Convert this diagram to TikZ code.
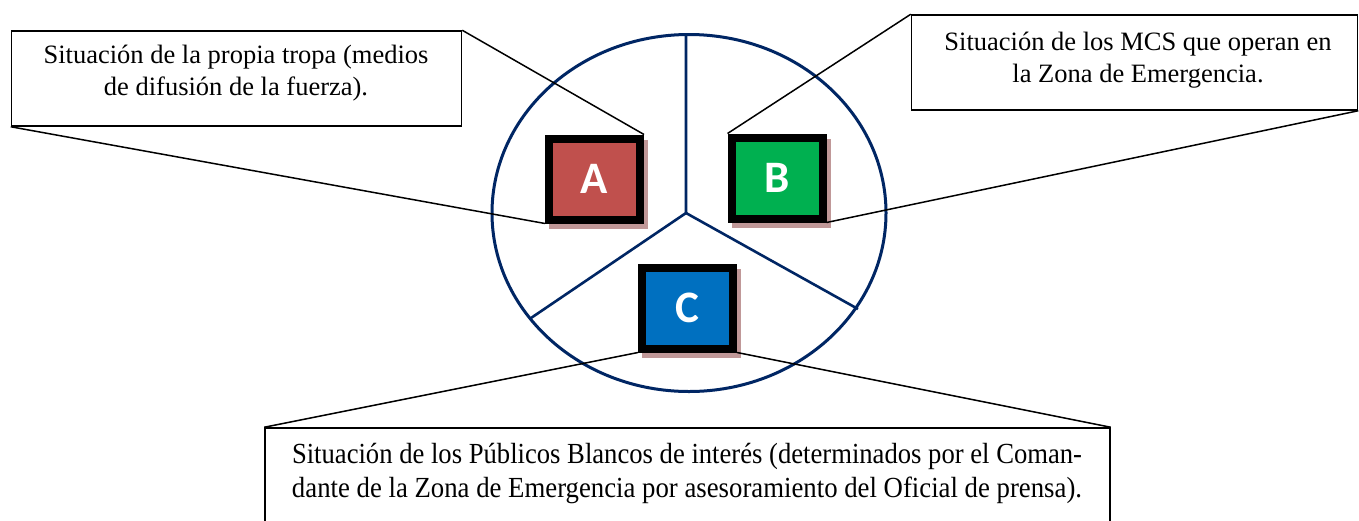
\documentclass[tikz,border=0pt]{standalone}
\usepackage{fontspec}
\usepackage{graphicx}
\usetikzlibrary{shapes.geometric}
\setmainfont{Liberation Serif}
\newfontfamily\lettfont{Carlito}
\definecolor{navy}{RGB}{0,38,100}
\definecolor{fillA}{RGB}{192,80,77}
\definecolor{fillB}{RGB}{0,176,80}
\definecolor{fillC}{RGB}{0,112,192}
\definecolor{shadowc}{RGB}{192,152,152}
\tikzset{
  callout/.style={draw=black, line width=1.5pt, fill=white, inner sep=0pt},
  pointer/.style={draw=black, line width=1.5pt},
  calltext/.style={align=center, inner sep=0pt, font=\fontsize{26.5}{32}\selectfont},
  letterbox/.style={draw=black, line width=8pt, minimum width=91pt, minimum height=81pt, inner sep=0pt,
     text=white, font=\lettfont\bfseries\fontsize{45}{46}\selectfont},
  shadowbox/.style={fill=shadowc, minimum width=99pt, minimum height=89pt, inner sep=0pt, draw=none},
  divider/.style={draw=navy, line width=2.6pt},
}
\begin{document}
\begin{tikzpicture}[x=1pt,y=-1pt]
\clip (0,0) rectangle (1359,520);
\fill[white] (0,0) rectangle (1359,520);
% ellipse and dividers
\node[draw=navy, line width=3pt, ellipse, minimum width=394pt, minimum height=357pt, inner sep=0pt] (circ) at (689,213) {};
\coordinate (mid) at (686,213);
\coordinate (dtop) at (686,33);
\coordinate (dleft) at (531,318);
\coordinate (dright) at (858,309);
\draw[divider] (dtop) -- (mid) -- (dleft);
\draw[divider] (mid) -- (dright);
% callout boxes
\node[callout, minimum width=450pt, minimum height=95pt] (c1) at (236.5,78.5) {};
\node[callout, minimum width=446pt, minimum height=95pt] (c2) at (1134.5,62.5) {};
\node[callout, minimum width=845pt, minimum height=112pt] (c3) at (687.5,484) {};
% squares
\node[shadowbox] (sA) at (598.5,184) {};
\node[shadowbox] (sB) at (781,183) {};
\node[shadowbox] (sC) at (691.5,313) {};
\node[letterbox, fill=fillA] (A) at (594.5,179) {A};
\node[letterbox, fill=fillB] (B) at (777,178) {B};
\node[letterbox, fill=fillC] (C) at (687.5,308) {C};
% pointers
\draw[pointer] (c1.north east) -- (A.north east);
\draw[pointer] (c1.south west) -- (A.south west);
\draw[pointer] (c2.north west) -- (B.north west);
\draw[pointer] (c2.south east) -- (B.south east);
\draw[pointer] (c3.north west) -- (C.south west);
\draw[pointer] (c3.north east) -- (C.south east);
% texts
\node[calltext] (t1) at (236,73) {Situación de la propia tropa (medios\\de difusión de la fuerza).};
\node[calltext] (t2) at (1138,60.5) {Situación de los MCS que operan en\\la Zona de Emergencia.};
\node[calltext, font=\fontsize{26.5}{34}\selectfont] (t3) at (687,474) {\resizebox{790pt}{1.1\height}{Situación de los Públicos Blancos de interés (determinados por el Coman-}\\\resizebox{790pt}{1.1\height}{dante de la Zona de Emergencia por asesoramiento del Oficial de prensa).}};
\end{tikzpicture}
\end{document}
